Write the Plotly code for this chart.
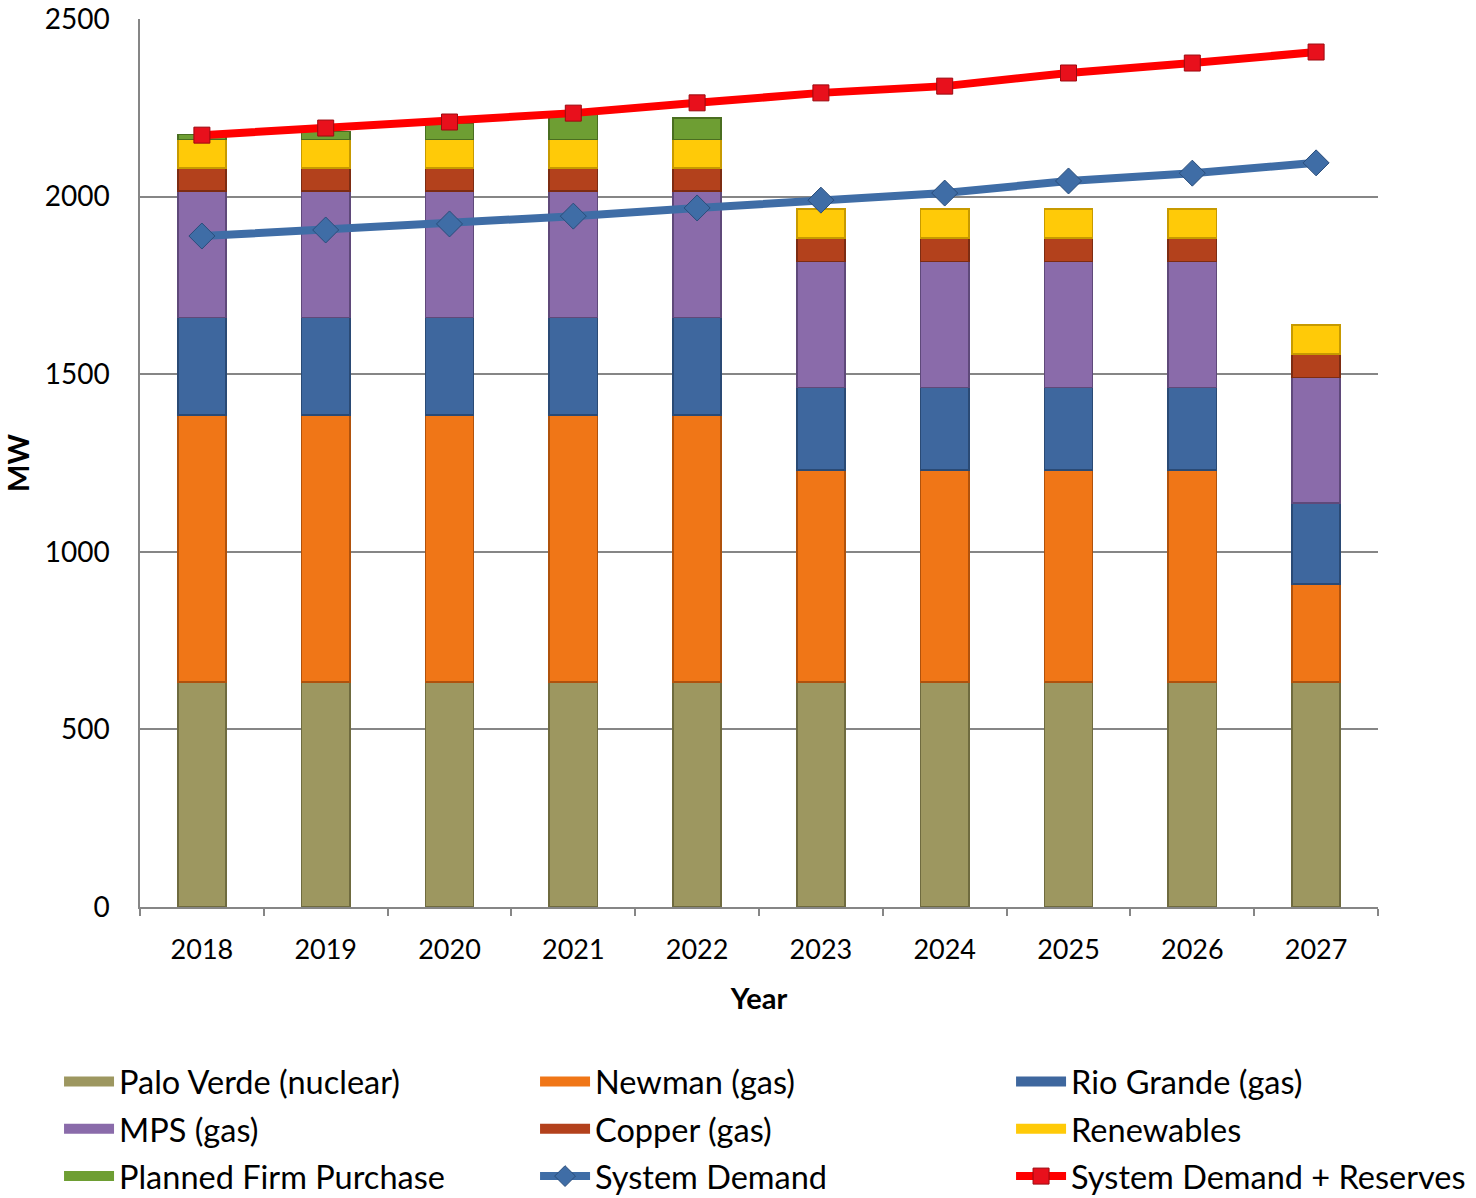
import plotly.graph_objects as go

years = ["2018", "2019", "2020", "2021", "2022", "2023", "2024", "2025", "2026", "2027"]
palo_verde = [633, 633, 633, 633, 633, 633, 633, 633, 633, 633]
newman = [752, 752, 752, 752, 752, 597, 597, 597, 597, 276]
rio_grande = [275, 275, 275, 275, 275, 233, 233, 233, 233, 228]
mps = [356, 356, 356, 356, 356, 354, 354, 354, 354, 354]
copper = [64, 64, 64, 64, 64, 66, 66, 66, 66, 66]
renewables = [81, 81, 81, 81, 81, 82, 82, 82, 82, 81]
planned_purchase = [14, 22, 45, 70, 60, None, None, None, None, None]
system_demand = [1889, 1906, 1923, 1945, 1968, 1990, 2010, 2044, 2066, 2095]
demand_reserves = [2173, 2193, 2210, 2235, 2264, 2292, 2311, 2348, 2376, 2407]

FONT = "Lato"

bar_series = [
    ("Palo Verde (nuclear)", palo_verde, "#9D9760", "#6f6b3f", "legend"),
    ("Newman (gas)", newman, "#F07617", "#b0520c", "legend2"),
    ("Rio Grande (gas)", rio_grande, "#3E679E", "#2a4a75", "legend3"),
    ("MPS (gas)", mps, "#8A6BAA", "#5f497a", "legend"),
    ("Copper (gas)", copper, "#B3411C", "#7d2c12", "legend2"),
    ("Renewables", renewables, "#FFCA08", "#c79a00", "legend3"),
    ("Planned Firm Purchase", planned_purchase, "#6E9E33", "#4a6e20", "legend"),
]

fig = go.Figure()
for name, vals, col, edge, lg in bar_series:
    fig.add_trace(go.Bar(
        x=years, y=vals, name=name, showlegend=False, legendgroup=name,
        marker=dict(color=col, line=dict(color=edge, width=1.5)),
    ))

# legend entries drawn as wide swatches (like the reference)
for name, vals, col, edge, lg in bar_series:
    fig.add_trace(go.Scatter(
        x=[None], y=[None], name=name, legend=lg, legendgroup=name,
        mode="lines", line=dict(color=col, width=16), hoverinfo="skip",
    ))

fig.add_trace(go.Scatter(
    x=years, y=system_demand, name="System Demand", legend="legend2",
    legendgroup="System Demand", mode="lines+markers",
    line=dict(color="#3F6DA6", width=8),
    marker=dict(symbol="diamond", size=20, color="#3F6DA6",
                line=dict(color="#2a4d7a", width=1)),
))
fig.add_trace(go.Scatter(
    x=years, y=demand_reserves, name="System Demand + Reserves", legend="legend3",
    legendgroup="System Demand + Reserves", mode="lines+markers",
    line=dict(color="#FF0000", width=8),
    marker=dict(symbol="square", size=16, color="#E8101C",
                line=dict(color="#9c0a10", width=1)),
))

legend_common = dict(
    orientation="v", traceorder="grouped", tracegroupgap=2,
    font=dict(family=FONT, size=32.5, color="#000000"),
    bgcolor="rgba(0,0,0,0)", xanchor="left", yanchor="top", y=-0.1655,
    itemwidth=50,
)

fig.update_layout(
    width=1476, height=1198,
    margin=dict(l=140, r=98, t=19, b=291, autoexpand=False),
    paper_bgcolor="white", plot_bgcolor="white",
    barmode="stack", bargap=0.61,
    font=dict(family=FONT, size=27, color="#000000"),
    showlegend=True,
    legend=dict(x=-0.0654, **legend_common),
    legend2=dict(x=0.3191, **legend_common),
    legend3=dict(x=0.7036, **legend_common),
    xaxis=dict(
        type="category", range=[-0.5, 9.5], automargin=False,
        showline=True, linecolor="#868686", linewidth=1.5,
        ticks="outside", tickson="boundaries", ticklen=7, tickcolor="#868686", tickwidth=1.5,
        tickfont=dict(family=FONT, size=27), ticklabelstandoff=18,
        title=dict(text="<b>Year</b>", font=dict(family=FONT, size=29), standoff=25),
        showgrid=False,
    ),
    yaxis=dict(
        range=[0, 2500], tickvals=[0, 500, 1000, 1500, 2000, 2500], automargin=False,
        showline=True, linecolor="#868686", linewidth=1.5,
        showgrid=True, gridcolor="#868686", gridwidth=1.5,
        ticks="", tickfont=dict(family=FONT, size=28), ticklabelstandoff=23,
        title=dict(text="<b>MW</b>", font=dict(family=FONT, size=29), standoff=8),
        zeroline=False,
    ),
)

fig.write_html("out.html")
